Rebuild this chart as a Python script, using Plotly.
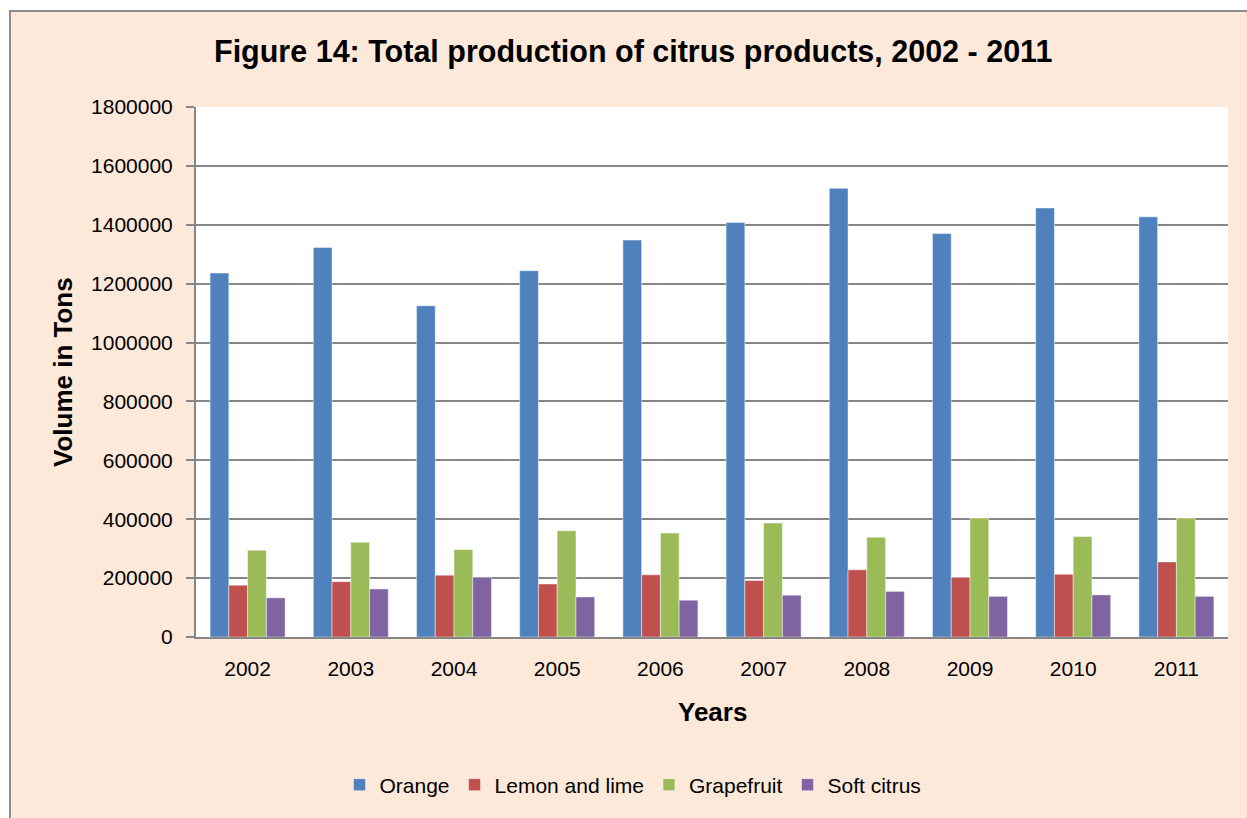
import plotly.graph_objects as go

years = ["2002", "2003", "2004", "2005", "2006", "2007", "2008", "2009", "2010", "2011"]
orange = [1236000, 1323000, 1125000, 1244000, 1348000, 1408000, 1524000, 1370000, 1457000, 1427000]
lemon_lime = [176000, 188000, 210000, 180000, 211000, 192000, 228000, 202000, 213000, 255000]
grapefruit = [295000, 322000, 297000, 361000, 353000, 387000, 339000, 404000, 341000, 404000]
soft_citrus = [133000, 163000, 203000, 136000, 125000, 142000, 155000, 138000, 143000, 138000]

series = [
    ("Orange", orange, "#4F81BD"),
    ("Lemon and lime", lemon_lime, "#C0504D"),
    ("Grapefruit", grapefruit, "#9BBB59"),
    ("Soft citrus", soft_citrus, "#8064A2"),
]

FONT = "Liberation Sans, Arial, sans-serif"
PEACH = "#FDE9D9"
GRID = "#868686"

fig = go.Figure()
for name, vals, col in series:
    fig.add_trace(go.Bar(
        x=years, y=vals, name=name,
        marker=dict(color=col, line=dict(color="rgba(255,255,255,0.45)", width=1)),
    ))

W, H = 1247, 818
L, R, T, B = 196, 1228, 107, 637
pw, ph = R - L, B - T

def px_x(p):
    return (p - L) / pw

def px_y(p):
    return (B - p) / ph

fig.update_layout(
    width=W, height=H,
    margin=dict(l=L, r=W - R, t=T, b=H - B),
    paper_bgcolor="white",
    plot_bgcolor="rgba(0,0,0,0)",
    barmode="group",
    bargap=0.273,
    bargroupgap=0,
    font=dict(family=FONT, size=21, color="black"),
    showlegend=True,
    legend=dict(
        orientation="h", x=px_x(633), xanchor="center", y=px_y(785), yanchor="middle",
        font=dict(family=FONT, size=21, color="black"),
        bgcolor="rgba(0,0,0,0)", itemwidth=30, traceorder="normal",
    ),
    shapes=[
        dict(type="rect", xref="paper", yref="paper", layer="below",
             x0=px_x(10), x1=px_x(1270), y0=px_y(840), y1=px_y(11),
             fillcolor=PEACH, line=dict(color="#8C8C8C", width=2)),
        dict(type="rect", xref="paper", yref="paper", layer="below",
             x0=0, x1=1, y0=0, y1=1, fillcolor="white", line=dict(width=0)),
    ],
    annotations=[
        dict(text="<b>Figure 14: Total production of citrus products, 2002 - 2011</b>",
             xref="paper", yref="paper", x=px_x(633), y=px_y(52), xanchor="center", yanchor="middle",
             showarrow=False, font=dict(family=FONT, size=30.5, color="black")),
        dict(text="<b>Volume in Tons</b>", textangle=-90,
             xref="paper", yref="paper", x=px_x(63), y=px_y(372), xanchor="center", yanchor="middle",
             showarrow=False, font=dict(family=FONT, size=26, color="black")),
        dict(text="<b>Years</b>",
             xref="paper", yref="paper", x=px_x(712), y=px_y(712), xanchor="center", yanchor="middle",
             showarrow=False, font=dict(family=FONT, size=26, color="black")),
    ],
)

fig.update_yaxes(
    range=[0, 1800000], dtick=200000, tick0=0,
    showgrid=True, gridcolor=GRID, gridwidth=1.5,
    showline=True, linecolor=GRID, linewidth=2,
    ticks="outside", ticklen=8, tickcolor=GRID, tickwidth=1.5,
    tickformat="d", ticklabelstandoff=9,
    tickfont=dict(family=FONT, size=21, color="black"),
    zeroline=False,
)
fig.update_xaxes(
    showline=True, linecolor=GRID, linewidth=2,
    ticks="", showgrid=False, ticklabelstandoff=12,
    tickfont=dict(family=FONT, size=21, color="black"),
)

fig.write_html("out.html")
